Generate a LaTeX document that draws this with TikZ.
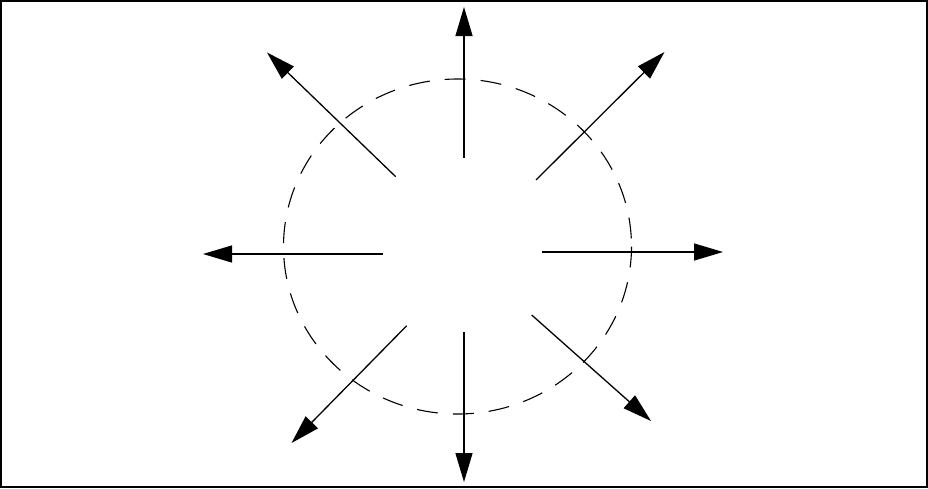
\documentclass[tikz,border=0pt]{standalone}
\usetikzlibrary{arrows.meta}
\begin{document}
\begin{tikzpicture}[x=1pt,y=-1pt,
  ray/.style={line width=1.3pt,-{Triangle[length=29pt,width=17pt]}},
  frame/.style={line width=2.4pt},
  orbit/.style={line width=1.1pt,dash pattern=on 21pt off 15pt}]
\useasboundingbox (0,0) rectangle (928,488);
\draw[frame] (1.2,1.2) rectangle (926.8,486.8);
\draw[orbit] (457.5,246.5) ellipse [x radius=174, y radius=167.5];
% start and end points
\coordinate (s1) at (464,158);   \coordinate (e1) at (464,7);
\coordinate (s2) at (464,332);   \coordinate (e2) at (464,482);
\coordinate (s3) at (382.5,254); \coordinate (e3) at (203,254);
\coordinate (s4) at (541.5,252); \coordinate (e4) at (723,252);
\coordinate (s5) at (395.7,176.7); \coordinate (e5) at (267,52.5);
\coordinate (s6) at (536,180);   \coordinate (e6) at (664.5,52);
\coordinate (s7) at (406.7,325.7); \coordinate (e7) at (291.5,443);
\coordinate (s8) at (531.7,315); \coordinate (e8) at (651,421);
\foreach \i in {1,...,8} \draw[ray] (s\i) -- (e\i);
\end{tikzpicture}
\end{document}
